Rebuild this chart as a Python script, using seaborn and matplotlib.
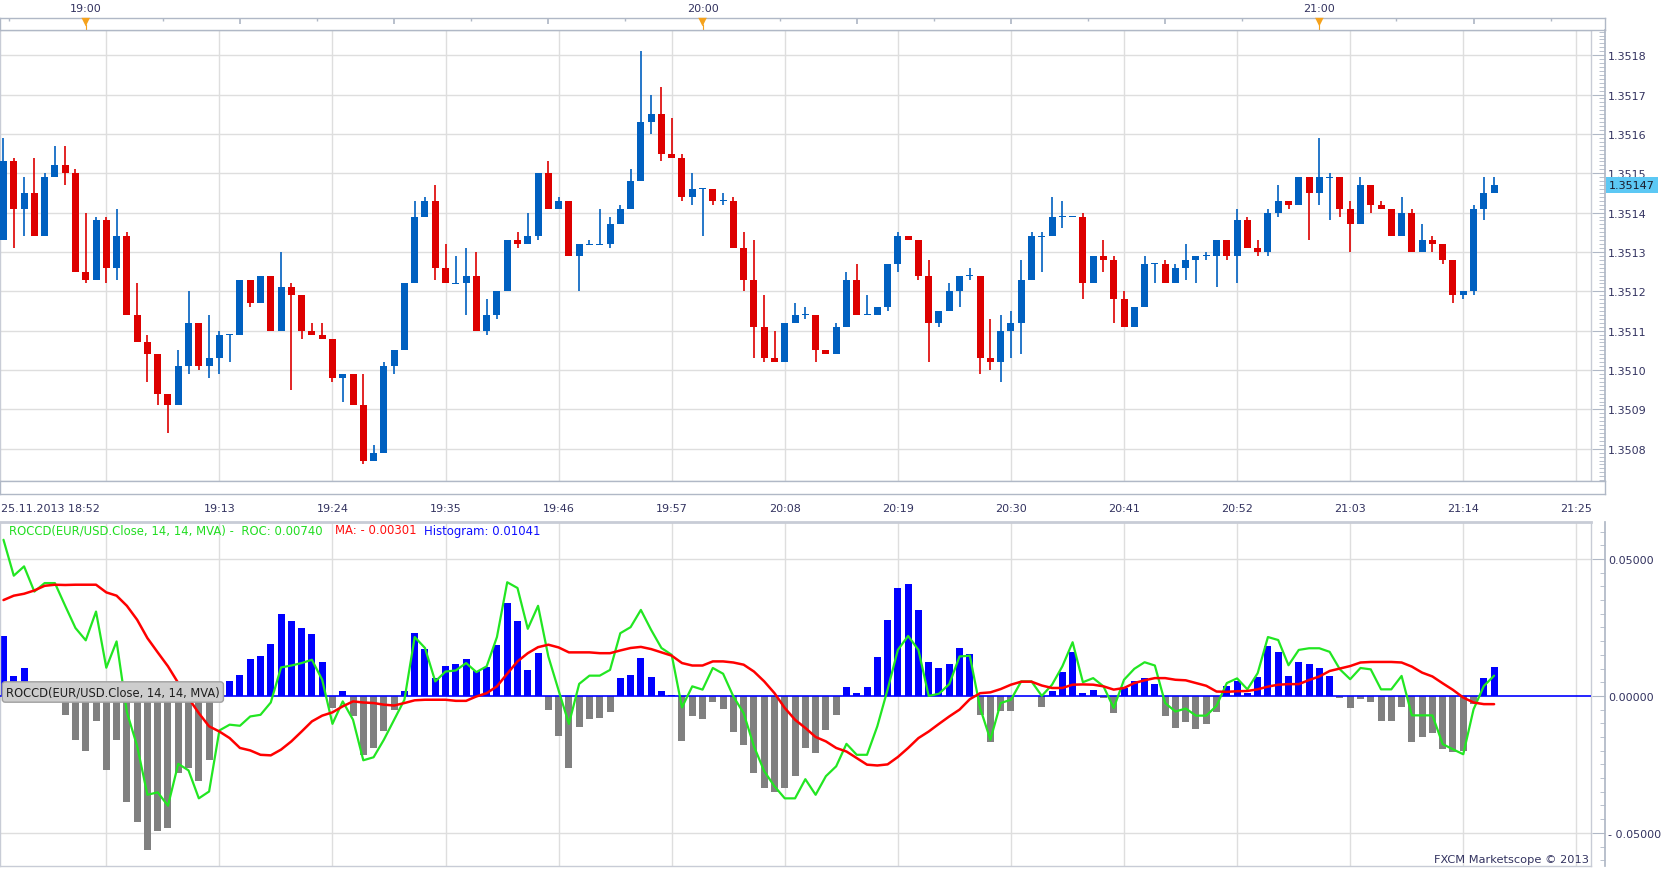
import numpy as np
import pandas as pd
import seaborn as sns
import matplotlib.pyplot as plt
import matplotlib.transforms as mtransforms
from matplotlib.ticker import FixedLocator, MultipleLocator, FuncFormatter

# EUR/USD 1-minute candles, 25.11.2013, first bar 18:52
start_time = "18:52"
date_label = "25.11.2013 18:52"
grid_times = ["19:02", "19:13", "19:24", "19:35", "19:46", "19:57", "20:08",
              "20:19", "20:30", "20:41", "20:52", "21:03", "21:14", "21:25"]
hour_labels = ["19:00", "20:00", "21:00"]

opens = [1.35133, 1.35153, 1.35141, 1.35145, 1.35134, 1.35149, 1.35152, 1.35150, 1.35125, 1.35123,
         1.35138, 1.35126, 1.35134, 1.35114, 1.35107, 1.35104, 1.35094, 1.35091, 1.35101, 1.35112,
         1.35101, 1.35103, 1.35109, 1.35109, 1.35123, 1.35117, 1.35124, 1.35110, 1.35121, 1.35119,
         1.35110, 1.35109, 1.35108, 1.35098, 1.35099, 1.35091, 1.35077, 1.35079, 1.35101, 1.35105,
         1.35122, 1.35139, 1.35143, 1.35126, 1.35122, 1.35122, 1.35124, 1.35110, 1.35114, 1.35120,
         1.35133, 1.35132, 1.35134, 1.35150, 1.35141, 1.35143, 1.35129, 1.35132, 1.35132, 1.35132,
         1.35137, 1.35141, 1.35148, 1.35163, 1.35165, 1.35155, 1.35154, 1.35144, 1.35146, 1.35146,
         1.35143, 1.35143, 1.35131, 1.35123, 1.35111, 1.35103, 1.35102, 1.35112, 1.35114, 1.35114,
         1.35105, 1.35104, 1.35111, 1.35123, 1.35114, 1.35114, 1.35116, 1.35127, 1.35134, 1.35133,
         1.35124, 1.35112, 1.35115, 1.35120, 1.35124, 1.35124, 1.35103, 1.35102, 1.35110, 1.35112,
         1.35123, 1.35134, 1.35134, 1.35139, 1.35139, 1.35139, 1.35122, 1.35129, 1.35128, 1.35118,
         1.35111, 1.35116, 1.35127, 1.35127, 1.35122, 1.35126, 1.35128, 1.35129, 1.35129, 1.35133,
         1.35129, 1.35138, 1.35131, 1.35130, 1.35140, 1.35143, 1.35142, 1.35149, 1.35145, 1.35149,
         1.35149, 1.35141, 1.35137, 1.35147, 1.35142, 1.35141, 1.35134, 1.35140, 1.35130, 1.35133,
         1.35132, 1.35128, 1.35119, 1.35120, 1.35141, 1.35145]
highs = [1.35159, 1.35154, 1.35149, 1.35154, 1.35150, 1.35157, 1.35157, 1.35151, 1.35140, 1.35139,
         1.35139, 1.35141, 1.35135, 1.35122, 1.35109, 1.35104, 1.35094, 1.35105, 1.35120, 1.35112,
         1.35114, 1.35110, 1.35109, 1.35123, 1.35123, 1.35124, 1.35124, 1.35130, 1.35122, 1.35119,
         1.35112, 1.35112, 1.35108, 1.35099, 1.35099, 1.35099, 1.35081, 1.35102, 1.35105, 1.35122,
         1.35143, 1.35144, 1.35147, 1.35132, 1.35129, 1.35131, 1.35130, 1.35118, 1.35120, 1.35133,
         1.35135, 1.35140, 1.35150, 1.35153, 1.35144, 1.35143, 1.35132, 1.35133, 1.35141, 1.35139,
         1.35142, 1.35151, 1.35181, 1.35170, 1.35172, 1.35164, 1.35155, 1.35150, 1.35146, 1.35146,
         1.35145, 1.35144, 1.35135, 1.35133, 1.35119, 1.35110, 1.35112, 1.35117, 1.35116, 1.35114,
         1.35105, 1.35112, 1.35125, 1.35127, 1.35119, 1.35116, 1.35127, 1.35135, 1.35134, 1.35133,
         1.35128, 1.35115, 1.35122, 1.35124, 1.35126, 1.35124, 1.35113, 1.35114, 1.35115, 1.35128,
         1.35135, 1.35135, 1.35144, 1.35143, 1.35139, 1.35140, 1.35129, 1.35133, 1.35129, 1.35120,
         1.35116, 1.35129, 1.35127, 1.35128, 1.35127, 1.35132, 1.35129, 1.35130, 1.35133, 1.35133,
         1.35141, 1.35139, 1.35133, 1.35141, 1.35147, 1.35143, 1.35149, 1.35149, 1.35159, 1.35150,
         1.35149, 1.35143, 1.35149, 1.35147, 1.35143, 1.35141, 1.35144, 1.35141, 1.35137, 1.35134,
         1.35132, 1.35128, 1.35120, 1.35142, 1.35149, 1.35149]
lows = [1.35133, 1.35131, 1.35134, 1.35134, 1.35134, 1.35149, 1.35147, 1.35125, 1.35122, 1.35123,
        1.35122, 1.35123, 1.35114, 1.35107, 1.35097, 1.35091, 1.35084, 1.35091, 1.35099, 1.35100,
        1.35098, 1.35099, 1.35102, 1.35109, 1.35116, 1.35117, 1.35110, 1.35110, 1.35095, 1.35108,
        1.35109, 1.35108, 1.35097, 1.35092, 1.35091, 1.35076, 1.35077, 1.35079, 1.35099, 1.35105,
        1.35122, 1.35139, 1.35123, 1.35122, 1.35122, 1.35114, 1.35110, 1.35109, 1.35113, 1.35120,
        1.35131, 1.35132, 1.35133, 1.35141, 1.35141, 1.35129, 1.35120, 1.35132, 1.35132, 1.35131,
        1.35137, 1.35141, 1.35148, 1.35160, 1.35153, 1.35154, 1.35143, 1.35142, 1.35134, 1.35142,
        1.35142, 1.35131, 1.35120, 1.35103, 1.35102, 1.35102, 1.35102, 1.35112, 1.35113, 1.35102,
        1.35104, 1.35104, 1.35111, 1.35114, 1.35114, 1.35114, 1.35115, 1.35125, 1.35133, 1.35123,
        1.35102, 1.35111, 1.35115, 1.35116, 1.35123, 1.35099, 1.35100, 1.35097, 1.35103, 1.35104,
        1.35123, 1.35125, 1.35134, 1.35136, 1.35139, 1.35118, 1.35122, 1.35125, 1.35112, 1.35111,
        1.35111, 1.35116, 1.35122, 1.35122, 1.35122, 1.35123, 1.35122, 1.35128, 1.35121, 1.35128,
        1.35122, 1.35131, 1.35129, 1.35129, 1.35139, 1.35141, 1.35142, 1.35133, 1.35142, 1.35138,
        1.35139, 1.35130, 1.35137, 1.35140, 1.35141, 1.35134, 1.35134, 1.35130, 1.35130, 1.35130,
        1.35127, 1.35117, 1.35118, 1.35119, 1.35138, 1.35145]
closes = [1.35153, 1.35141, 1.35145, 1.35134, 1.35149, 1.35152, 1.35150, 1.35125, 1.35123, 1.35138,
          1.35126, 1.35134, 1.35114, 1.35107, 1.35104, 1.35094, 1.35091, 1.35101, 1.35112, 1.35101,
          1.35103, 1.35109, 1.35109, 1.35123, 1.35117, 1.35124, 1.35110, 1.35121, 1.35119, 1.35110,
          1.35109, 1.35108, 1.35098, 1.35099, 1.35091, 1.35077, 1.35079, 1.35101, 1.35105, 1.35122,
          1.35139, 1.35143, 1.35126, 1.35122, 1.35122, 1.35124, 1.35110, 1.35114, 1.35120, 1.35133,
          1.35132, 1.35134, 1.35150, 1.35141, 1.35143, 1.35129, 1.35132, 1.35132, 1.35132, 1.35137,
          1.35141, 1.35148, 1.35163, 1.35165, 1.35155, 1.35154, 1.35144, 1.35146, 1.35146, 1.35143,
          1.35143, 1.35131, 1.35123, 1.35111, 1.35103, 1.35102, 1.35112, 1.35114, 1.35114, 1.35105,
          1.35104, 1.35111, 1.35123, 1.35114, 1.35114, 1.35116, 1.35127, 1.35134, 1.35133, 1.35124,
          1.35112, 1.35115, 1.35120, 1.35124, 1.35124, 1.35103, 1.35102, 1.35110, 1.35112, 1.35123,
          1.35134, 1.35134, 1.35139, 1.35139, 1.35139, 1.35122, 1.35129, 1.35128, 1.35118, 1.35111,
          1.35116, 1.35127, 1.35127, 1.35122, 1.35126, 1.35128, 1.35129, 1.35129, 1.35133, 1.35129,
          1.35138, 1.35131, 1.35130, 1.35140, 1.35143, 1.35142, 1.35149, 1.35145, 1.35149, 1.35149,
          1.35141, 1.35137, 1.35147, 1.35142, 1.35141, 1.35134, 1.35140, 1.35130, 1.35133, 1.35132,
          1.35128, 1.35119, 1.35120, 1.35141, 1.35145, 1.35147]

# ROCCD(14, 14, MVA) values
roc = [0.0570, 0.0439, 0.0473, 0.0381, 0.0412, 0.0412, 0.0329, 0.0248, 0.0203, 0.0308,
       0.0103, 0.0199, -0.0059, -0.0183, -0.0361, -0.0352, -0.0401, -0.0248, -0.0272, -0.0374,
       -0.0349, -0.0126, -0.0105, -0.0109, -0.0075, -0.0069, -0.0024, 0.0104, 0.0111, 0.0120,
       0.0132, 0.0059, -0.0102, -0.0020, -0.0087, -0.0235, -0.0224, -0.0160, -0.0087, -0.0014,
       0.0215, 0.0175, 0.0053, 0.0089, 0.0093, 0.0120, 0.0087, 0.0108, 0.0215, 0.0415,
       0.0394, 0.0245, 0.0329, 0.0144, 0.0020, -0.0102, 0.0044, 0.0074, 0.0074, 0.0095,
       0.0229, 0.0251, 0.0314, 0.0241, 0.0175, 0.0150, -0.0042, 0.0035, 0.0023, 0.0102,
       0.0081, -0.0002, -0.0063, -0.0184, -0.0275, -0.0330, -0.0374, -0.0374, -0.0304, -0.0361,
       -0.0293, -0.0257, -0.0175, -0.0215, -0.0215, -0.0111, 0.0023, 0.0168, 0.0219, 0.0168,
       0.0000, 0.0008, 0.0043, 0.0144, 0.0147, -0.0044, -0.0160, -0.0026, -0.0014, 0.0053,
       0.0053, 0.0000, 0.0041, 0.0108, 0.0196, 0.0050, 0.0065, 0.0035, -0.0044, 0.0059,
       0.0099, 0.0123, 0.0111, -0.0026, -0.0057, -0.0046, -0.0072, -0.0072, -0.0036, 0.0047,
       0.0064, 0.0024, 0.0083, 0.0215, 0.0204, 0.0112, 0.0168, 0.0174, 0.0174, 0.0161,
       0.0097, 0.0061, 0.0102, 0.0097, 0.0024, 0.0024, 0.0073, -0.0071, -0.0071, -0.0071,
       -0.0176, -0.0195, -0.0213, -0.0049, 0.0036, 0.0074]
ma = [0.0350, 0.0366, 0.0373, 0.0385, 0.0402, 0.0406, 0.0405, 0.0406, 0.0406, 0.0406,
      0.0378, 0.0366, 0.0329, 0.0278, 0.0211, 0.0159, 0.0108, 0.0047, -0.0008, -0.0063,
      -0.0111, -0.0130, -0.0154, -0.0190, -0.0199, -0.0215, -0.0217, -0.0196, -0.0166, -0.0130,
      -0.0093, -0.0072, -0.0060, -0.0038, -0.0020, -0.0024, -0.0026, -0.0032, -0.0035, -0.0026,
      -0.0016, -0.0014, -0.0014, -0.0014, -0.0018, -0.0018, -0.0002, 0.0010, 0.0035, 0.0081,
      0.0126, 0.0156, 0.0178, 0.0187, 0.0177, 0.0159, 0.0159, 0.0159, 0.0156, 0.0156,
      0.0166, 0.0175, 0.0179, 0.0171, 0.0159, 0.0147, 0.0120, 0.0111, 0.0111, 0.0126,
      0.0126, 0.0122, 0.0114, 0.0089, 0.0053, 0.0010, -0.0044, -0.0087, -0.0117, -0.0150,
      -0.0166, -0.0190, -0.0203, -0.0227, -0.0251, -0.0254, -0.0250, -0.0223, -0.0190, -0.0154,
      -0.0130, -0.0102, -0.0075, -0.0050, -0.0012, 0.0010, 0.0013, 0.0025, 0.0041, 0.0052,
      0.0052, 0.0038, 0.0029, 0.0029, 0.0041, 0.0042, 0.0041, 0.0035, 0.0023, 0.0029,
      0.0047, 0.0057, 0.0065, 0.0065, 0.0059, 0.0057, 0.0047, 0.0037, 0.0016, 0.0015,
      0.0017, 0.0018, 0.0024, 0.0034, 0.0041, 0.0043, 0.0043, 0.0058, 0.0071, 0.0091,
      0.0100, 0.0109, 0.0122, 0.0124, 0.0124, 0.0124, 0.0122, 0.0107, 0.0085, 0.0071,
      0.0046, 0.0022, -0.0006, -0.0024, -0.0030, -0.00301]
hist = [0.0220, 0.0074, 0.0103, -0.0004, 0.0010, 0.0006, -0.0071, -0.0162, -0.0202, -0.0092,
        -0.0271, -0.0162, -0.0388, -0.0461, -0.0563, -0.0494, -0.0483, -0.0283, -0.0264, -0.0311,
        -0.0235, 0.0004, 0.0056, 0.0078, 0.0136, 0.0147, 0.0191, 0.0300, 0.0275, 0.0249,
        0.0227, 0.0125, -0.0044, 0.0019, -0.0074, -0.0214, -0.0190, -0.0127, -0.0050, 0.0019,
        0.0231, 0.0173, 0.0066, 0.0108, 0.0118, 0.0133, 0.0090, 0.0105, 0.0187, 0.0341,
        0.0275, 0.0096, 0.0155, -0.0051, -0.0148, -0.0262, -0.0112, -0.0083, -0.0079, -0.0057,
        0.0066, 0.0077, 0.0139, 0.0069, 0.0018, 0.0005, -0.0163, -0.0072, -0.0086, -0.0021,
        -0.0046, -0.0130, -0.0178, -0.0283, -0.0335, -0.0352, -0.0337, -0.0293, -0.0189, -0.0210,
        -0.0125, -0.0068, 0.0033, 0.0011, 0.0033, 0.0142, 0.0277, 0.0394, 0.0409, 0.0314,
        0.0124, 0.0102, 0.0117, 0.0175, 0.0153, -0.0068, -0.0167, -0.0054, -0.0054, 0.0001,
        0.0001, -0.0039, 0.0018, 0.0088, 0.0161, 0.0011, 0.0022, -0.0006, -0.0063, 0.0028,
        0.0056, 0.0067, 0.0045, -0.0072, -0.0116, -0.0097, -0.0119, -0.0103, -0.0057, 0.0038,
        0.0053, 0.0010, 0.0068, 0.0181, 0.0162, 0.0072, 0.0123, 0.0116, 0.0101, 0.0072,
        -0.0007, -0.0044, -0.0011, -0.0022, -0.0091, -0.0091, -0.0040, -0.0168, -0.0150, -0.0135,
        -0.0193, -0.0204, -0.0201, -0.0029, 0.0064, 0.01041]

sns.set_theme(style="white")
plt.rcParams['font.family'] = ['DejaVu Sans']

W, H = 1663, 870
PX0, PXK = 3.5, 10.28   # pixel of first bar, pixels per minute

BLUE = '#0060c0'
RED = '#dd0000'
FRAME = '#b0b8c6'
GRID = '#dedede'
TXT = '#333360'
ORANGE = '#f5a21c'


def mins(t):
    h, m = t.split(':')
    sh, sm = start_time.split(':')
    return (int(h) * 60 + int(m)) - (int(sh) * 60 + int(sm))


def rect(x0, y0, x1, y1):
    return [x0 / W, 1 - y1 / H, (x1 - x0) / W, (y1 - y0) / H]


def xr(x0, x1):
    return ((x0 - PX0) / PXK, (x1 - PX0) / PXK)


def style_frame(a, color=FRAME):
    for s in a.spines.values():
        s.set_color(color)
        s.set_linewidth(1)


fig = plt.figure(figsize=(W / 100, H / 100), dpi=100)
fig.patch.set_facecolor('white')

ax = fig.add_axes(rect(0, 31, 1591, 482))
ax_h = fig.add_axes(rect(0, 19, 1605, 31))
ax_t = fig.add_axes(rect(0, 482, 1605, 495))
ax_b = fig.add_axes(rect(0, 523, 1591, 867))
ax_pr = fig.add_axes(rect(1591, 31, 1605, 482))
ax_br = fig.add_axes(rect(1591, 523, 1605, 867))

o = np.array(opens)
c = np.array(closes)
hi = np.array(highs)
lo = np.array(lows)
idx = np.arange(len(c))
grid_pos = [mins(t) for t in grid_times]

p_lim = (1.35 + 7.18e-4, 1.35 + 18.64e-4)
b_lim = (-0.0621, 0.0635)

# --- price panel
col = np.where(c < o, RED, BLUE)
ax.vlines(idx, lo, hi, colors=col, linewidth=1.2, zorder=2)
body = np.maximum(np.abs(c - o), 0.0000025)
ax.bar(idx, body, bottom=(o + c) / 2 - body / 2, width=0.68, color=col,
       linewidth=0, zorder=3)
ax.set_xlim(*xr(0, 1591))
ax.set_ylim(*p_lim)
ax.set_xticks(grid_pos)
ax.set_yticks(np.round(np.arange(1.3508, 1.35185, 0.0001), 4))
ax.grid(True, color=GRID, linewidth=1)
ax.tick_params(labelbottom=False, labelleft=False, length=0)
style_frame(ax, '#c8ccd6')

# price axis on the right
ax_pr.set_ylim(*p_lim)
ax_pr.set_xticks([])
for s in ['left', 'top', 'bottom']:
    ax_pr.spines[s].set_visible(False)
ax_pr.spines['right'].set_color(FRAME)
ax_pr.yaxis.tick_right()
ax_pr.yaxis.set_major_locator(MultipleLocator(0.0001))
ax_pr.yaxis.set_minor_locator(MultipleLocator(0.00001))
ax_pr.yaxis.set_major_formatter(FuncFormatter(lambda v, p: f"{v:.4f}"))
ax_pr.tick_params(axis='y', which='major', direction='in', length=9.6, width=0.8,
                  color=FRAME, pad=2.3, labelsize=8, labelcolor=TXT)
ax_pr.tick_params(axis='y', which='minor', direction='in', length=4, width=0.6, color=FRAME)
ax_pr.patch.set_alpha(0)
blend = mtransforms.blended_transform_factory(ax_pr.transAxes, ax_pr.transData)
ax_pr.text(1.26, c[-1], f"{c[-1]:.5f}", transform=blend, ha='left', va='center',
           fontsize=8, color='#1a1a2a', zorder=6,
           bbox=dict(boxstyle='square,pad=0.28', fc='#5cc8f4', ec='none'))

# --- hour strip on top
ax_h.set_xlim(*xr(0, 1605))
ax_h.set_ylim(0, 1)
ax_h.set_yticks([])
hour_pos = [mins(t) for t in hour_labels]
ax_h.xaxis.tick_top()
ax_h.xaxis.set_major_locator(FixedLocator(np.arange(hour_pos[0] - 15, 160, 15)))
ax_h.xaxis.set_minor_locator(FixedLocator(np.arange(hour_pos[0] - 7.5, 160, 7.5)))
ax_h.tick_params(axis='x', which='major', direction='in', length=4, color=FRAME, labeltop=False)
ax_h.tick_params(axis='x', which='minor', direction='in', length=2.2, color=FRAME)
style_frame(ax_h)
ax_h.vlines(hour_pos, 0, 0.5, color=ORANGE, linewidth=0.8)
sns.scatterplot(x=hour_pos, y=[0.66] * len(hour_pos), ax=ax_h, marker='v', s=38,
                color=ORANGE, edgecolor='none', clip_on=False, zorder=5)
for t, p in zip(hour_labels, hour_pos):
    ax_h.text(p, 1.85, t, ha='center', va='center', fontsize=8, color=TXT)

# --- time strip between panels
ax_t.set_xlim(*xr(0, 1605))
ax_t.set_ylim(0, 1)
ax_t.set_yticks([])
ax_t.xaxis.set_major_locator(FixedLocator(grid_pos))
ax_t.xaxis.set_minor_locator(MultipleLocator(2))
ax_t.set_xticklabels([''] + grid_times[1:])
ax_t.tick_params(axis='x', which='major', direction='in', length=9.4, width=0.8,
                 color=FRAME, pad=6.6, labelsize=8, labelcolor=TXT)
ax_t.tick_params(axis='x', which='minor', direction='in', length=3, width=0.6, color=FRAME)
style_frame(ax_t)
tb = mtransforms.blended_transform_factory(ax_t.transData, ax_t.transAxes)
ax_t.text(xr(1, 0)[0], -0.70, date_label, transform=tb, ha='left', va='top',
          fontsize=8, color=TXT)

# --- ROCCD panel
ind = pd.DataFrame({'bar': idx, 'roc': roc, 'ma': ma, 'hist': hist})
hcol = np.where(ind['hist'] >= 0, '#0000ff', '#808080')
ax_b.bar(ind['bar'], ind['hist'], width=0.68, color=hcol, linewidth=0, zorder=2)
ax_b.axhline(0, color='#0000ff', linewidth=1.2, zorder=3)
sns.lineplot(data=ind, x='bar', y='roc', ax=ax_b, color='#22e622', linewidth=1.6, zorder=4)
sns.lineplot(data=ind, x='bar', y='ma', ax=ax_b, color='#ff0000', linewidth=1.8, zorder=5)
ax_b.set_xlabel('')
ax_b.set_ylabel('')
ax_b.set_xlim(*xr(0, 1591))
ax_b.set_ylim(*b_lim)
ax_b.set_xticks(grid_pos)
ax_b.set_yticks([-0.05, 0.05])
ax_b.grid(True, color=GRID, linewidth=1)
ax_b.tick_params(labelbottom=False, labelleft=False, length=0)
style_frame(ax_b, '#c8ccd6')
ax_b.spines['top'].set_linewidth(2)

ax_br.set_ylim(*b_lim)
ax_br.set_xticks([])
for s in ['left', 'top', 'bottom']:
    ax_br.spines[s].set_visible(False)
ax_br.spines['right'].set_color(FRAME)
ax_br.yaxis.tick_right()
ax_br.yaxis.set_major_locator(FixedLocator([-0.05, 0.0, 0.05]))
ax_br.yaxis.set_minor_locator(MultipleLocator(0.005))
ax_br.yaxis.set_major_formatter(
    FuncFormatter(lambda v, p: f"{v:.5f}" if v >= 0 else f"- {abs(v):.5f}"))
ax_br.tick_params(axis='y', which='major', direction='in', length=9.6, width=0.8,
                  color=FRAME, pad=2.3, labelsize=8, labelcolor=TXT)
ax_br.tick_params(axis='y', which='minor', direction='in', length=3.6, width=0.6, color=FRAME)
ax_br.patch.set_alpha(0)

# indicator header, segments placed where the reference puts them
fmt = lambda v: f"{v:.5f}" if v >= 0 else f"- {abs(v):.5f}"
parts = [(f"ROCCD(EUR/USD.Close, 14, 14, MVA) -  ROC: {fmt(roc[-1])}", '#22dd22', 9),
         (f"MA: {fmt(ma[-1])}", '#ff1010', 335),
         (f"Histogram: {fmt(hist[-1])}", '#1010ff', 424)]
for s, cl, xp in parts:
    fig.text(xp / W, 1 - 531 / H, s, color=cl, fontsize=8.4, va='center', ha='left')

fig.text(6 / W, 1 - 693 / H, "ROCCD(EUR/USD.Close, 14, 14, MVA)", fontsize=8.3,
         color='#1e1e1e', va='center', ha='left',
         bbox=dict(boxstyle='round,pad=0.32,rounding_size=0.25', fc='#cdcdcd', ec='#a0a0a0'))

fig.text(1589 / W, 1 - 860 / H, "FXCM Marketscope © 2013", ha='right', va='center',
         fontsize=8.2, color=TXT)

fig.savefig('out.png', dpi=100)
